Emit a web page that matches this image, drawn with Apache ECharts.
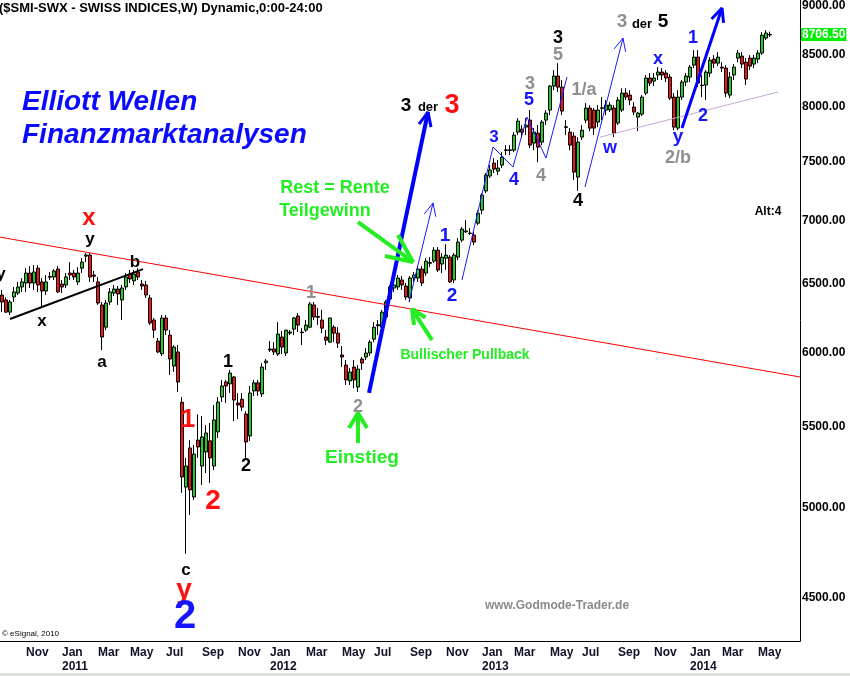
<!DOCTYPE html>
<html><head><meta charset="utf-8">
<script src="https://cdn.jsdelivr.net/npm/echarts@6/dist/echarts.min.js"></script>
<style>html,body{margin:0;padding:0;background:#fff}#c{width:850px;height:676px}</style>
</head><body><div id="c"></div>
<script>
// ---- categories: weekly bars starting Monday 2010-09-06, 200 slots (193 bars + empty space)
const firstWeek = '2010-09-06';
const weekSlots = 200;

// ---- weekly OHLC
const openV = [6417,6380,6290,6402,6432,6478,6508,6584,6508,6622,
6516,6447,6552,6554,6615,6500,6493,6584,6584,6516,
6622,6716,6724,6569,6516,6343,6180,6365,6432,6462,
6380,6478,6577,6524,6592,6500,6493,6395,6232,6080,
5990,6247,6123,5905,6003,5660,5125,5365,5066,5415,
5253,5340,5410,5253,5467,5695,5796,5783,5830,5655,
5680,5583,5441,5735,5790,5715,5928,6017,6024,5989,
6109,5996,6137,6166,6261,6145,6159,6180,6343,6258,
6232,6109,6073,6180,6137,5982,5912,5803,5898,5762,
5954,5968,5996,6094,6190,6180,6254,6387,6470,6478,
6531,6485,6395,6546,6546,6615,6584,6666,6677,6763,
6654,6700,6708,6531,6708,6843,6916,6900,6884,6980,
7088,7248,7376,7488,7419,7471,7606,7600,7603,7765,
7792,7811,7875,7666,7756,7675,7875,7968,8195,8292,
8185,7814,7765,7729,7367,7720,7875,7987,7968,7857,
7990,7968,7970,7987,7848,7968,8128,8109,7996,7903,
7930,8128,8273,8243,8302,8331,8321,8282,8090,7802,
8090,8234,8282,8399,8478,8205,8205,8321,8458,8418,
8379,8370,8109,8302,8468,8488,8428,8468,8409,8458,
8518,8669,8700];
const closeV = [6365,6290,6365,6440,6478,6516,6584,6508,6592,6493,
6447,6516,6558,6600,6440,6478,6554,6569,6554,6584,
6669,6725,6554,6560,6357,6109,6357,6440,6462,6425,
6470,6554,6539,6577,6554,6485,6417,6210,6159,6003,
6247,6159,5954,6038,5796,5186,5253,5108,5327,5371,
5435,5460,5303,5544,5661,5769,5769,5857,5675,5642,
5628,5403,5722,5790,5735,5898,5940,6024,6003,6130,
6038,6159,6145,6247,6195,6140,6195,6350,6254,6252,
6173,6087,6247,6137,6066,5968,5810,5864,5810,5884,
5926,5996,6073,6180,6198,6290,6365,6478,6493,6546,
6493,6402,6546,6569,6615,6508,6677,6660,6763,6608,
6708,6724,6516,6724,6827,6932,6910,6896,6827,7062,
7213,7384,7428,7436,7445,7541,7600,7606,7738,7866,
7765,7829,7648,7765,7630,7857,7940,8195,8292,8185,
7959,7808,7648,7410,7675,7783,7987,7802,7802,7968,
7984,8015,8015,7756,8062,8128,8090,8062,7950,7940,
8090,8273,8224,8273,8331,8302,8273,8081,7811,8090,
8234,8292,8379,8478,8224,8200,8331,8448,8418,8478,
8370,8128,8282,8379,8518,8409,8263,8389,8468,8518,
8699,8720,8706.5];
const lowV = [6291,6283,6268,6365,6417,6440,6440,6470,6455,6440,
6328,6417,6531,6530,6432,6432,6470,6531,6531,6493,
6584,6669,6516,6516,6343,6017,6159,6343,6410,6343,
6232,6455,6508,6493,6531,6455,6395,6195,6102,5995,
5975,6123,5844,5865,5729,5090,4740,4960,5048,5303,
5137,5210,5150,5228,5428,5661,5655,5722,5537,5550,
5603,5303,5409,5702,5702,5695,5878,6003,5982,5975,
5989,5975,6123,6123,6145,6052,6145,6173,6232,6195,
6137,6052,6066,6073,6031,5898,5776,5776,5755,5729,
5878,5947,5975,6073,6123,6159,6232,6380,6440,6455,
6455,6380,6365,6516,6516,6485,6561,6630,6662,6592,
6584,6608,6508,6508,6685,6827,6900,6884,6803,6964,
7054,7230,7359,7402,7384,7445,7559,7559,7585,7738,
7711,7738,7621,7603,7497,7648,7829,7921,8156,8138,
7921,7738,7603,7341,7248,7693,7848,7774,7738,7811,
7875,7921,7950,7720,7829,7950,8062,8015,7921,7774,
7912,8109,8195,8195,8253,8253,8234,8062,7783,7783,
8062,8195,8234,8370,8185,8090,8062,8282,8370,8389,
8331,8090,8081,8253,8428,8370,8205,8350,8370,8418,
8498,8649,8680];
const highV = [6455,6400,6380,6478,6516,6546,6622,6638,6646,6646,
6546,6569,6592,6615,6638,6531,6584,6669,6608,6630,
6700,6740,6740,6600,6554,6365,6380,6470,6493,6485,
6493,6584,6608,6608,6622,6531,6524,6417,6247,6102,
6268,6268,6159,6052,6052,5695,5303,5415,5384,5580,
5570,5511,5524,5642,5695,5810,5810,5878,5837,5722,
5722,5600,5769,5810,5810,5925,5954,6080,6073,6217,
6152,6159,6159,6254,6283,6173,6232,6365,6365,6321,
6306,6159,6247,6195,6180,6045,5947,5891,5947,5912,
5968,6031,6087,6217,6232,6306,6380,6493,6516,6569,
6561,6508,6561,6592,6638,6638,6700,6708,6787,6787,
6740,6811,6724,6740,6859,6948,7005,6940,6908,7088,
7230,7402,7471,7533,7515,7585,7648,7648,7765,7894,
7829,7894,7968,7802,7829,7875,7968,8205,8350,8418,
8253,7875,7802,7765,7720,7829,8034,8015,7987,8015,
8090,8062,8043,8015,8090,8175,8175,8156,8043,7950,
8109,8302,8321,8321,8379,8370,8350,8311,8128,8156,
8253,8321,8399,8548,8548,8302,8350,8478,8498,8528,
8428,8399,8331,8409,8548,8528,8468,8498,8498,8548,
8730,8751,8735];

// ---- axis values
const priceTicks = [4500,5000,5500,6000,6500,7000,7500,8000,8500,9000];
const lastPrice = 8706.5;
const monthNames = ['Jan','Feb','Mar','Apr','May','Jun','Jul','Aug','Sep','Oct','Nov','Dec'];

// ---- drawn annotation lines, [bar position, price]
const redTrend   = [[-0.5,6867],[199.5,5830]];
const blackTrend = [[2,6239],[35.25,6615]];
const pinkTrend  = [[149.5,7720],[194,8138]];
const blueBig1   = [[91.75,5722],[106.5,7950]];
const blueBig1H  = [[104.25,7839],[106.5,7950],[107.25,7811]];
const blueBig2   = [[170,7802],[180,8979]];
const blueBig2H  = [[177.4,8865],[180,8979],[180.4,8824]];
const blueThin1  = [[101.75,6365],[107.75,7147]];
const blueThin1H = [[105.575,7056],[107.75,7147],[108.45,7033]];
const blueThin2  = [[115,6531],[122.75,7631],[127.75,7454],[131.25,7903],[136,7533],[141.25,8282]];
const blueThin3  = [[145.75,7282],[155.25,8669]];
const blueThin3H = [[153.03,8560],[155.25,8669],[155.9,8531]];
const greenA     = [[89,5396],[89,5589]];
const greenAH    = [[86.75,5492],[89,5589],[91.25,5492]];
const greenB     = [[107.5,6087],[102.5,6312]];
const greenBH    = [[103,6195],[102.5,6312],[105.875,6250]];
const greenC     = [[89,6989],[102.75,6670]];
const greenCH    = [[99,6884],[102.75,6670],[95.75,6717]];

// ---- build categories
const dates = [];
{
  const d0 = new Date(firstWeek + 'T00:00:00Z');
  for (let i = 0; i < weekSlots; i++) {
    const d = new Date(d0.getTime() + i * 7 * 86400000);
    dates.push(d.toISOString().slice(0, 10));
  }
}
const candles = openV.map((o, i) => [o, closeV[i], lowV[i], highV[i]]);

function isLabelSlot(idx) {
  const j = idx + 2;
  if (j >= dates.length) return false;
  const d = new Date(dates[j] + 'T00:00:00Z');
  return d.getUTCDate() <= 7 && d.getUTCMonth() % 2 === 0;
}
function labelText(idx) {
  const d = new Date(dates[idx + 2] + 'T00:00:00Z');
  const m = d.getUTCMonth();
  return m === 0 ? monthNames[m] + '\n' + d.getUTCFullYear() : monthNames[m];
}

const BLUE = '#1414ff', GREEN = '#22ee22', GREY = '#8f8f8f', RED = '#ff1010';
function seg(points, color, width) {
  return {type: 'line', xAxisIndex: 1, yAxisIndex: 0, data: points, symbol: 'none',
    silent: true, animation: false, z: 5, lineStyle: {color: color, width: width}};
}

// annotation texts
const FONT = 'Arial, "Liberation Sans", sans-serif';
const notes = [
  ['y', 1, 274, '#000', 17], ['x', 89, 218, RED, 24], ['y', 90, 239, '#000', 17],
  ['b', 135, 262, '#000', 17], ['x', 42, 321, '#000', 17], ['a', 102, 362, '#000', 17],
  ['1', 188, 420, RED, 26], ['2', 213, 501, RED, 28], ['c', 186, 570, '#000', 17],
  ['y', 184, 590, RED, 28], ['2', 185, 617, BLUE, 40],
  ['1', 228, 362, '#000', 18], ['2', 246, 466, '#000', 18],
  ['1', 311, 293, GREY, 18], ['2', 358, 407, GREY, 18],
  ['Einstieg', 362, 458, GREEN, 19], ['Bullischer Pullback', 465, 355, GREEN, 14],
  ['Rest = Rente', 335, 188, GREEN, 18], ['Teilgewinn', 325, 211, GREEN, 18],
  ['3', 406, 106, '#000', 19], ['der', 428, 107, '#000', 13], ['3', 452, 106, RED, 27],
  ['1', 445, 236, BLUE, 19], ['2', 452, 296, BLUE, 19],
  ['3', 494, 137, BLUE, 17], ['4', 514, 180, BLUE, 18], ['5', 529, 100, BLUE, 18],
  ['3', 530, 84, GREY, 18], ['4', 541, 176, GREY, 18], ['5', 558, 55, GREY, 18],
  ['3', 558, 38, '#000', 18], ['1/a', 584, 90, GREY, 18], ['4', 578, 201, '#000', 18],
  ['3', 622, 22, GREY, 19], ['der', 642, 24, '#000', 13], ['5', 663, 22, '#000', 19],
  ['w', 610, 148, BLUE, 18], ['x', 658, 59, BLUE, 18], ['y', 678, 137, BLUE, 19],
  ['2/b', 678, 158, GREY, 18], ['1', 693, 38, BLUE, 18], ['2', 703, 116, BLUE, 18],
  ['Alt:4', 768, 212, '#000', 12]
];
const graphics = notes.map(n => ({
  type: 'text', silent: true, z: 50,
  style: {text: n[0], x: n[1], y: n[2], fill: n[3], font: 'bold ' + n[4] + 'px ' + FONT,
    textAlign: 'center', textVerticalAlign: 'middle', align: 'center', verticalAlign: 'middle'}
}));
graphics.push(
  {type: 'text', silent: true, z: 50, style: {text: '($SMI-SWX - SWISS INDICES,W) Dynamic,0:00-24:00',
    x: -1, y: 8, fill: '#000', font: 'bold 13px ' + FONT, textVerticalAlign: 'middle', verticalAlign: 'middle'}},
  {type: 'text', silent: true, z: 50, style: {text: 'Elliott Wellen', x: 22, y: 102, fill: '#0a0aff',
    font: 'italic bold 28px ' + FONT, textVerticalAlign: 'middle', verticalAlign: 'middle'}},
  {type: 'text', silent: true, z: 50, style: {text: 'Finanzmarktanalysen', x: 22, y: 135, fill: '#0a0aff',
    font: 'italic bold 28px ' + FONT, textVerticalAlign: 'middle', verticalAlign: 'middle'}},
  {type: 'text', silent: true, z: 50, style: {text: 'www.Godmode-Trader.de', x: 557, y: 606, fill: '#8a8a8a',
    font: 'bold 12px ' + FONT, textAlign: 'center', align: 'center', textVerticalAlign: 'middle', verticalAlign: 'middle'}},
  {type: 'text', silent: true, z: 50, style: {text: '\u00a9 eSignal, 2010', x: 2, y: 634, fill: '#000',
    font: '8px ' + FONT, textVerticalAlign: 'middle', verticalAlign: 'middle'}},
  {type: 'rect', silent: true, z: 1, shape: {x: 0, y: 673, width: 850, height: 3}, style: {fill: '#dde2dd'}}
);

const chart = echarts.init(document.getElementById('c'), null, {renderer: 'canvas'});
chart.setOption({
  animation: false,
  backgroundColor: '#fff',
  grid: {left: 0, right: 50, top: 0, bottom: 35},
  xAxis: [{
    type: 'category', data: dates, boundaryGap: true,
    axisLine: {show: true, onZero: false, lineStyle: {color: '#000', width: 1}},
    axisTick: {show: false}, splitLine: {show: false},
    axisLabel: {
      interval: (idx) => isLabelSlot(idx),
      formatter: (v, idx) => labelText(idx),
      align: 'left', margin: 5, color: '#10102a', fontWeight: 'bold', fontSize: 12,
      lineHeight: 14, fontFamily: FONT
    }
  }, {
    type: 'value', min: -0.5, max: 199.5, show: false,
    axisLine: {show: false, onZero: false}
  }],
  yAxis: {
    type: 'log', logBase: 10, min: 4280, max: 9064, position: 'right',
    axisLine: {show: true, onZero: false, lineStyle: {color: '#000', width: 1}},
    axisTick: {show: false}, splitLine: {show: false}, minorTick: {show: false},
    axisLabel: {
      customValues: priceTicks, formatter: v => Number(v).toFixed(2),
      color: '#000', fontWeight: 'bold', fontSize: 12, margin: 2, fontFamily: FONT
    }
  },
  graphic: graphics,
  series: [
    {
      type: 'candlestick', data: candles, barWidth: 3, z: 3,
      itemStyle: {color: '#22cc22', color0: '#ee1111', borderColor: '#000', borderColor0: '#000', borderWidth: 1},
      markLine: {
        silent: true, symbol: 'none', animation: false,
        lineStyle: {color: 'rgba(0,0,0,0)', width: 0, type: 'solid'},
        label: {show: true, position: 'end', distance: 1, formatter: () => lastPrice.toFixed(2),
          color: '#fff', backgroundColor: '#00ee00', fontWeight: 'bold', fontSize: 12,
          fontFamily: FONT, padding: [1, 1, 0, 1]},
        data: [{yAxis: lastPrice}]
      }
    },
    seg(redTrend, '#ff0000', 1),
    seg(blackTrend, '#000', 2),
    seg(pinkTrend, '#c8a8d8', 1),
    seg(blueBig1, '#0000ff', 4), seg(blueBig1H, '#0000ff', 3),
    seg(blueBig2, '#0000ff', 3), seg(blueBig2H, '#0000ff', 3),
    seg(blueThin1, '#1a1aff', 1), seg(blueThin1H, '#1a1aff', 1),
    seg(blueThin2, '#1a1aff', 1),
    seg(blueThin3, '#1a1aff', 1), seg(blueThin3H, '#1a1aff', 1),
    seg(greenA, '#22ee22', 4), seg(greenAH, '#22ee22', 4),
    seg(greenB, '#22ee22', 4), seg(greenBH, '#22ee22', 4),
    seg(greenC, '#22ee22', 4), seg(greenCH, '#22ee22', 4)
  ]
});
</script>
</body></html>
